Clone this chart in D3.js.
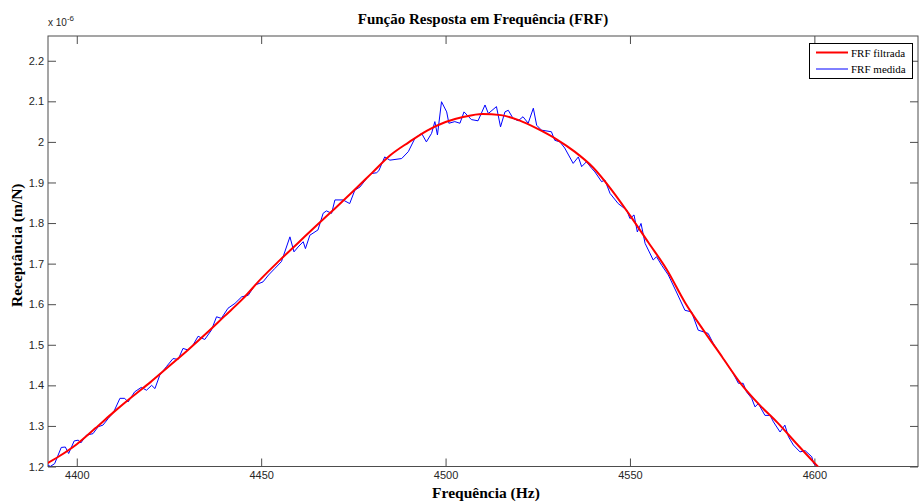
<!DOCTYPE html>
<html>
<head>
<meta charset="utf-8">
<script src="https://cdn.jsdelivr.net/npm/d3@7"></script>
<style>
  body { margin: 0; background: #fff; }
  svg { display: block; }
</style>
</head>
<body>
<svg id="chart"></svg>
<script>
// FRF filtrada (smooth curve) - frequency in Hz, receptance in 1e-6 m/N
const redFreq = [4392, 4395, 4400, 4405, 4410, 4415, 4420, 4425, 4430, 4435, 4440, 4445, 4450,
  4455, 4460, 4465, 4470, 4475, 4480, 4485, 4490, 4495, 4500, 4505, 4510, 4515, 4520, 4525,
  4530, 4535, 4540, 4545, 4550, 4555, 4560, 4565, 4570, 4575, 4580, 4585, 4590, 4595, 4600, 4602];
const redVals = [1.208, 1.224, 1.255, 1.294, 1.334, 1.372, 1.408, 1.447, 1.486, 1.527, 1.570, 1.613, 1.663,
  1.708, 1.751, 1.794, 1.836, 1.879, 1.923, 1.967, 1.999, 2.028, 2.049, 2.062, 2.069, 2.066, 2.053, 2.032,
  2.007, 1.976, 1.937, 1.882, 1.819, 1.752, 1.685, 1.603, 1.535, 1.470, 1.405, 1.353, 1.308, 1.258, 1.209, 1.190];

// FRF medida (measured, noisy)
const blueFreq = [4392.2, 4392.8, 4394.0, 4395.8, 4396.9, 4397.8, 4399.3, 4400.4, 4401.1, 4402.6,
  4404.4, 4405.8, 4407.1, 4408.5, 4410.0, 4411.7, 4413.0, 4413.9, 4415.7, 4417.5,
  4418.9, 4420.3, 4421.2, 4422.5, 4424.3, 4426.1, 4427.5, 4428.8, 4430.2, 4431.5,
  4432.9, 4434.7, 4436.5, 4437.9, 4439.2, 4441.0, 4442.9, 4444.7, 4446.5, 4448.3,
  4450.5, 4452.0, 4453.7, 4455.5, 4457.8, 4458.9, 4460.0, 4461.4, 4462.0, 4463.2,
  4465.4, 4466.8, 4467.7, 4469.1, 4470.0, 4472.2, 4474.0, 4475.4, 4476.8, 4478.6,
  4479.9, 4481.3, 4481.9, 4483.5, 4484.9, 4488.1, 4489.9, 4491.7, 4493.5, 4494.8,
  4496.2, 4497.1, 4497.8, 4498.9, 4500.3, 4500.9, 4502.5, 4503.9, 4505.0, 4507.0,
  4508.8, 4510.7, 4511.6, 4513.8, 4514.9, 4516.1, 4517.0, 4518.3, 4519.7, 4521.0,
  4522.4, 4523.8, 4524.7, 4526.0, 4528.7, 4529.6, 4531.0, 4532.3, 4534.6, 4536.0,
  4536.9, 4538.2, 4539.6, 4540.5, 4542.3, 4543.2, 4544.6, 4546.8, 4549.1, 4550.0,
  4551.1, 4552.0, 4553.0, 4554.1, 4556.3, 4557.2, 4558.6, 4560.4, 4562.6, 4564.9,
  4566.7, 4568.5, 4569.9, 4571.2, 4572.6, 4574.4, 4576.2, 4578.0, 4579.4, 4580.7,
  4581.6, 4583.0, 4583.9, 4584.8, 4586.6, 4588.0, 4588.9, 4590.7, 4592.0, 4593.0,
  4594.3, 4596.1, 4597.5, 4599.3, 4599.8, 4600.7];
const blueVals = [1.204, 1.200, 1.207, 1.247, 1.248, 1.232, 1.263, 1.265, 1.258, 1.277,
  1.281, 1.298, 1.302, 1.318, 1.334, 1.368, 1.368, 1.359, 1.384, 1.395,
  1.388, 1.400, 1.392, 1.425, 1.446, 1.466, 1.464, 1.491, 1.487, 1.499,
  1.521, 1.513, 1.536, 1.569, 1.565, 1.590, 1.602, 1.618, 1.622, 1.647,
  1.655, 1.672, 1.688, 1.705, 1.766, 1.729, 1.741, 1.754, 1.737, 1.770,
  1.783, 1.824, 1.830, 1.824, 1.857, 1.857, 1.848, 1.881, 1.889, 1.910,
  1.922, 1.924, 1.929, 1.963, 1.955, 1.959, 1.976, 2.009, 2.021, 2.000,
  2.021, 2.050, 2.017, 2.099, 2.074, 2.046, 2.050, 2.046, 2.074, 2.055,
  2.052, 2.091, 2.070, 2.087, 2.037, 2.074, 2.078, 2.058, 2.052, 2.062,
  2.046, 2.083, 2.041, 2.029, 2.025, 2.004, 2.000, 1.985, 1.947, 1.963,
  1.939, 1.951, 1.935, 1.926, 1.902, 1.906, 1.873, 1.848, 1.832, 1.811,
  1.820, 1.778, 1.799, 1.750, 1.709, 1.717, 1.696, 1.672, 1.630, 1.585,
  1.581, 1.536, 1.532, 1.528, 1.503, 1.478, 1.454, 1.429, 1.405, 1.405,
  1.384, 1.368, 1.347, 1.355, 1.326, 1.326, 1.310, 1.285, 1.302, 1.273,
  1.253, 1.236, 1.239, 1.224, 1.207, 1.201];

const xTicks = [4400, 4450, 4500, 4550, 4600];
const yTicks = [1.2, 1.3, 1.4, 1.5, 1.6, 1.7, 1.8, 1.9, 2.0, 2.1, 2.2];
const xDomain = [4392.2, 4628.1];
const yDomain = [1.2, 2.261];

const W = 919, H = 504;
const plot = {left: 48, right: 918, top: 36, bottom: 466.5};

const svg = d3.select("#chart").attr("width", W).attr("height", H);

const x = d3.scaleLinear().domain(xDomain).range([plot.left, plot.right]);
const y = d3.scaleLinear().domain(yDomain).range([plot.bottom, plot.top]);

const axisColor = "#4d4d4d";
const tickFont = "'Liberation Sans', Arial, sans-serif";
const serif = "'Liberation Serif', 'Times New Roman', serif";

// clip
svg.append("clipPath").attr("id", "clip")
  .append("rect")
  .attr("x", plot.left).attr("y", plot.top)
  .attr("width", plot.right - plot.left).attr("height", plot.bottom - plot.top);

// axes (ticks pointing inward)
function styleAxis(g) {
  g.select(".domain").remove();
  g.selectAll(".tick line").attr("stroke", axisColor);
  g.selectAll(".tick text").attr("fill", "#262626")
    .style("font-family", tickFont).style("font-size", "11px");
}

svg.append("g")
  .attr("transform", `translate(0,${plot.bottom})`)
  .call(d3.axisBottom(x).tickValues(xTicks).tickSizeInner(-8).tickSizeOuter(0)
    .tickPadding(5).tickFormat(d3.format("d")))
  .call(styleAxis);

svg.append("g")
  .attr("transform", `translate(0,${plot.top})`)
  .call(d3.axisTop(x).tickValues(xTicks).tickSizeInner(-8).tickSizeOuter(0).tickFormat(""))
  .call(styleAxis);

svg.append("g")
  .attr("transform", `translate(${plot.left},0)`)
  .call(d3.axisLeft(y).tickValues(yTicks).tickSizeInner(-8).tickSizeOuter(0)
    .tickPadding(4).tickFormat(d => d === 2 ? "2" : d3.format(".1f")(d)))
  .call(styleAxis);

svg.append("g")
  .attr("transform", `translate(${plot.right},0)`)
  .call(d3.axisRight(y).tickValues(yTicks).tickSizeInner(-8).tickSizeOuter(0).tickFormat(""))
  .call(styleAxis);

// box
svg.append("rect")
  .attr("x", plot.left).attr("y", plot.top)
  .attr("width", plot.right - plot.left).attr("height", plot.bottom - plot.top)
  .attr("fill", "none").attr("stroke", axisColor).attr("stroke-width", 1);

// lines
const redLine = d3.line().x((d, i) => x(redFreq[i])).y(d => y(d)).curve(d3.curveMonotoneX);
const blueLine = d3.line().x((d, i) => x(blueFreq[i])).y(d => y(d));

const lines = svg.append("g").attr("clip-path", "url(#clip)");
lines.append("path").datum(blueVals)
  .attr("d", blueLine).attr("fill", "none").attr("stroke", "#0000ff").attr("stroke-width", 1);
lines.append("path").datum(redVals)
  .attr("d", redLine).attr("fill", "none").attr("stroke", "#ff0000").attr("stroke-width", 2);

// exponent label
const expo = svg.append("text").attr("x", 48).attr("y", 26)
  .style("font-family", tickFont).style("font-size", "10px").attr("fill", "#262626");
expo.append("tspan").text("x 10");
expo.append("tspan").attr("dy", -5).style("font-size", "8px").text("-6");

// title and labels
svg.append("text").attr("x", (plot.left + plot.right) / 2).attr("y", 24)
  .attr("text-anchor", "middle").style("font-family", serif)
  .style("font-size", "15px").style("font-weight", "bold").text("Função Resposta em Frequência (FRF)");

svg.append("text").attr("x", (plot.left + plot.right) / 2 + 3).attr("y", 498)
  .attr("text-anchor", "middle").style("font-family", serif)
  .style("font-size", "15.5px").style("font-weight", "bold").text("Frequência (Hz)");

svg.append("text")
  .attr("transform", `translate(22,${(plot.top + plot.bottom) / 2 - 6}) rotate(-90)`)
  .attr("text-anchor", "middle").style("font-family", serif)
  .style("font-size", "15.5px").style("font-weight", "bold").text("Receptância (m/N)");

// legend
const leg = svg.append("g");
leg.append("rect").attr("x", 809.5).attr("y", 43.5).attr("width", 103).attr("height", 35)
  .attr("fill", "#fff").attr("stroke", "#000").attr("stroke-width", 1);
const legItems = [{label: "FRF filtrada", color: "#ff0000", w: 2}, {label: "FRF medida", color: "#0000ff", w: 1}];
legItems.forEach((d, i) => {
  const yy = 52.5 + i * 16.5;
  leg.append("line").attr("x1", 816).attr("x2", 848).attr("y1", yy).attr("y2", yy)
    .attr("stroke", d.color).attr("stroke-width", d.w);
  leg.append("text").attr("x", 851).attr("y", yy + 4)
    .style("font-family", serif).style("font-size", "11px").attr("fill", "#000").text(d.label);
});
</script>
</body>
</html>
